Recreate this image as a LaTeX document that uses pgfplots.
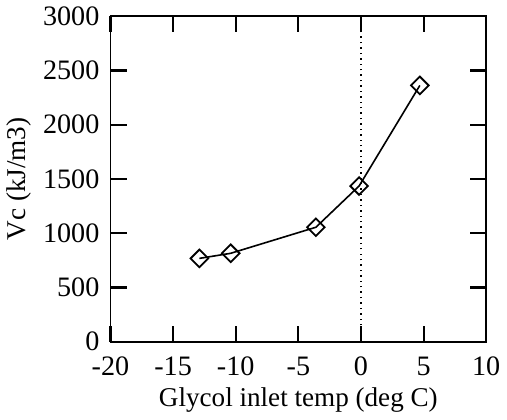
\documentclass[border=0pt]{standalone}
\usepackage{fontspec}
\setmainfont{Liberation Serif}
\usepackage{pgfplots}
\pgfplotsset{compat=1.18}

\begin{document}
\begin{tikzpicture}
\begin{axis}[
    scale only axis,
    width=187pt, height=162pt,
    xmin=-20, xmax=10, ymin=0, ymax=3000,
    xtick={-20,-15,-10,-5,0,5,10},
    xticklabels={-20,-15,-10,-5,0,5,10},
    ytick={0,500,1000,1500,2000,2500,3000},
    yticklabels={0,500,1000,1500,2000,2500,3000},
    major tick length=8pt,
    tick style={black, line width=1.1pt},
    axis line style={line width=0.9pt},
    ticklabel style={font=\fontsize{14}{16}\selectfont},
    xticklabel style={yshift=-4pt},
    yticklabel style={xshift=-2pt},
    label style={font=\fontsize{13.5}{15}\selectfont},
    xlabel={Glycol inlet temp (deg C)},
    ylabel={Vc (kJ/m3)},
    xlabel style={yshift=1pt},
    ylabel style={yshift=-1pt},
]
\addplot[black, dotted, line width=0.7pt, forget plot] coordinates {(0,0) (0,3000)};
\addplot[black, line width=0.8pt, mark=square, mark size=3.1pt,
    mark options={rotate=45, solid, line width=0.9pt}]
    coordinates {(-12.9,768) (-10.4,815) (-3.6,1055) (-0.15,1435) (4.7,2362)};
% inward tick marks on all four sides (8pt long)
\pgfplotsinvokeforeach{-15,-10,-5,0,5}{
  \draw[line width=1.1pt] (axis cs:#1,0) -- (axis cs:#1,148);
  \draw[line width=1.1pt] (axis cs:#1,3000) -- (axis cs:#1,2852);
}
\pgfplotsinvokeforeach{500,1000,1500,2000,2500}{
  \draw[line width=1.1pt] (axis cs:-20,#1) -- (axis cs:-18.72,#1);
  \draw[line width=1.1pt] (axis cs:10,#1) -- (axis cs:8.72,#1);
}
\end{axis}
\end{tikzpicture}
\end{document}
